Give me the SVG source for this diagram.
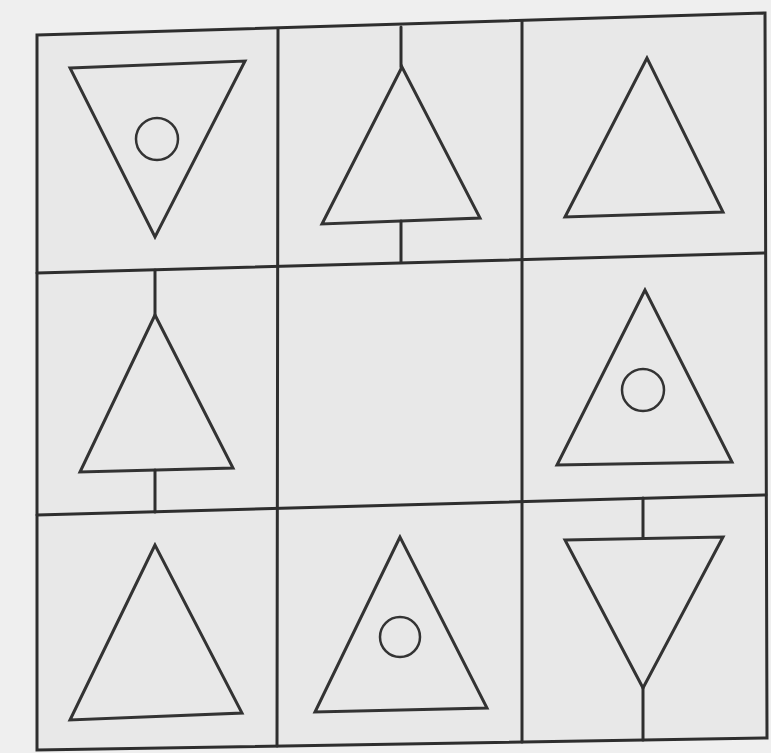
<svg xmlns="http://www.w3.org/2000/svg" width="771" height="753" viewBox="0 0 771 753">
<style>
.ln{stroke:#2e2e2e;stroke-width:3;fill:none;stroke-linecap:round}
.sh{stroke:#333;stroke-width:3;fill:none;stroke-linejoin:miter}
.ci{stroke:#333;stroke-width:2.5;fill:none}
</style>
<rect width="771" height="753" fill="#efefef"/>
<polygon points="37,35 765,13 767,738 37,750" fill="#e8e8e8"/>
<g id="grid">
<polygon class="ln" points="37,35 765,13 767,738 37,750"/>
<line class="ln" x1="37" y1="273" x2="765" y2="253"/>
<line class="ln" x1="37" y1="515" x2="766" y2="495"/>
<line class="ln" x1="278" y1="29" x2="277" y2="746"/>
<line class="ln" x1="522" y1="21" x2="522" y2="742"/>
</g>
<g id="r1c1">
<polygon class="sh" points="70,68 245,61 155,237"/>
<circle class="ci" cx="157" cy="139" r="21"/>
</g>
<g id="r1c2">
<line class="ln" x1="401" y1="27" x2="401" y2="67"/>
<polygon class="sh" points="402,67 322,224 480,218"/>
<line class="ln" x1="401" y1="221" x2="401" y2="262"/>
</g>
<g id="r1c3">
<polygon class="sh" points="647,58 565,217 723,212"/>
</g>
<g id="r2c1">
<line class="ln" x1="155" y1="270" x2="155" y2="315"/>
<polygon class="sh" points="155,315 80,472 233,468"/>
<line class="ln" x1="155" y1="470" x2="155" y2="512"/>
</g>
<g id="r2c2"></g>
<g id="r2c3">
<polygon class="sh" points="645,290 557,465 732,462"/>
<circle class="ci" cx="643" cy="390" r="21"/>
</g>
<g id="r3c1">
<polygon class="sh" points="155,545 70,720 242,713"/>
</g>
<g id="r3c2">
<polygon class="sh" points="400,537 315,712 487,708"/>
<circle class="ci" cx="400" cy="637" r="20"/>
</g>
<g id="r3c3">
<line class="ln" x1="643" y1="498" x2="643" y2="538"/>
<polygon class="sh" points="565,540 723,537 643,688"/>
<line class="ln" x1="643" y1="688" x2="643" y2="740"/>
</g>
</svg>
